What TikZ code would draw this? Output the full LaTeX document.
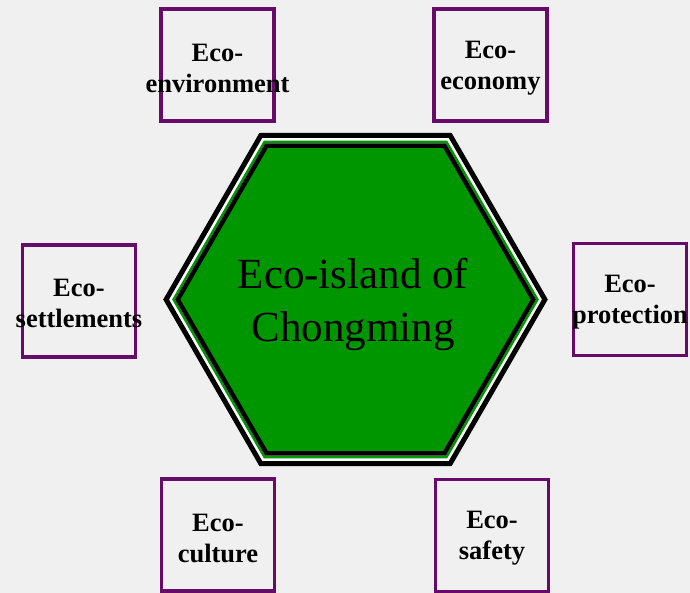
\documentclass[tikz,border=0pt]{standalone}
\usepackage{fontspec}
\setmainfont{Liberation Serif}
\definecolor{boxpurple}{HTML}{680A6A}
\definecolor{hexgreen}{HTML}{009600}
\definecolor{bgcol}{HTML}{F0F0F0}
\begin{document}
\begin{tikzpicture}[x=1pt,y=-1pt,
  ecobox/.style={draw=boxpurple,line width=3.5pt,minimum width=113pt,minimum height=112pt,inner sep=0pt,outer sep=0pt},
  ecolabel/.style={font=\fontsize{26.5}{31}\selectfont\bfseries,align=center,inner sep=0pt},
  hexfont/.style={font=\fontsize{43}{53}\selectfont,align=center,inner sep=0pt}
]
\fill[bgcol] (0,0) rectangle (690,593);
\useasboundingbox (0,0) rectangle (690,593);
% hexagon
\begin{scope}[shift={(355.5,299.5)}]
  \filldraw[fill=white,draw=black,line width=5pt]
    (0:189.4) \foreach \a in {60,120,...,300}{ -- (\a:189.4)} -- cycle;
  \draw[draw=hexgreen,line width=2.5pt]
    (0:181.9) \foreach \a in {60,120,...,300}{ -- (\a:181.9)} -- cycle;
  \filldraw[fill=hexgreen,draw=black,line width=4.5pt]
    (0:177.8) \foreach \a in {60,120,...,300}{ -- (\a:177.8)} -- cycle;
\end{scope}
\node[hexfont] (hex) at (353,305) {Eco-island of\\Chongming};
% boxes
\node[ecobox] (env) at (217.5,65) {};
\node[ecolabel] (envt) at ([yshift=-3pt]env.center) {Eco-\\environment};
\node[ecobox] (econ) at (490.5,65) {};
\node[ecolabel] (econt) at ([yshift=-3pt]econ.center) {Eco-\\economy};
\node[ecobox] (settl) at (79,301) {};
\node[ecolabel] (settlt) at ([yshift=-2.5pt]settl.center) {Eco-\\settlements};
\node[ecobox] (prot) at (630,299.5) {};
\node[ecolabel] (prott) at ([yshift=-2.5pt]prot.center) {Eco-\\protection};
\node[ecobox] (cult) at (218,535) {};
\node[ecolabel] (cultt) at ([yshift=-3pt]cult.center) {Eco-\\culture};
\node[ecobox] (safe) at (492,535.5) {};
\node[ecolabel] (safet) at ([yshift=-3pt]safe.center) {Eco-\\safety};
\end{tikzpicture}
\end{document}
